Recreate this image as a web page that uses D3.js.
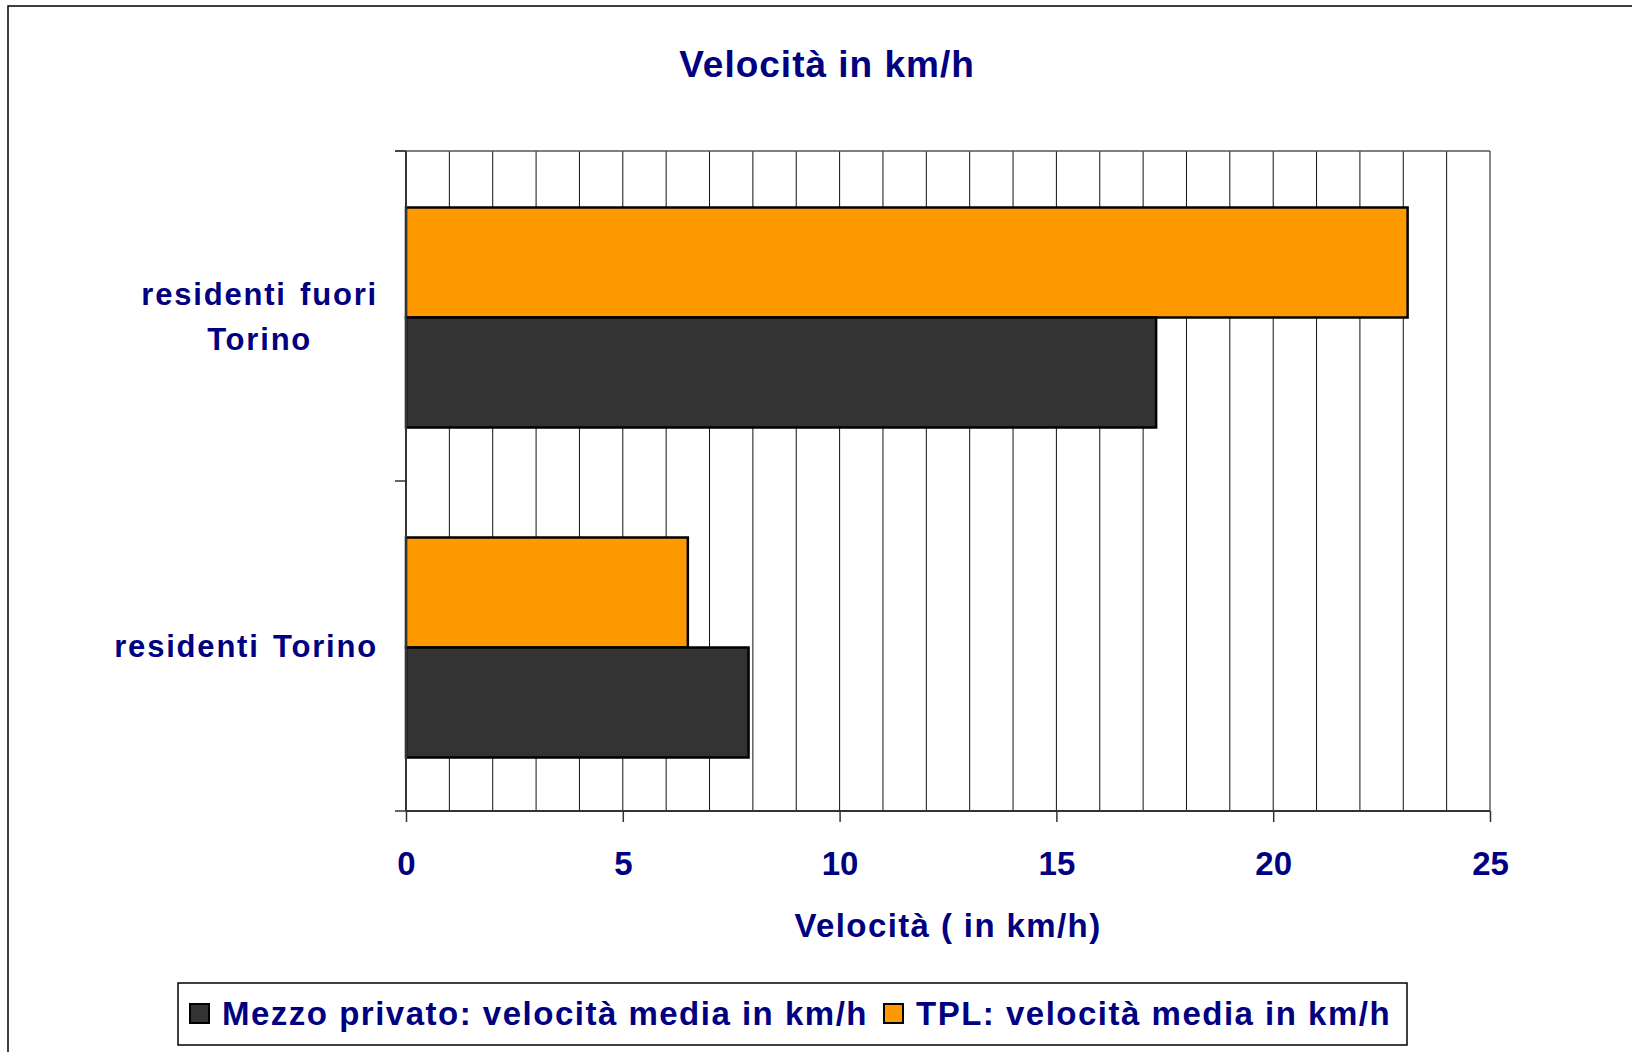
<!DOCTYPE html>
<html>
<head>
<meta charset="utf-8">
<script src="https://cdn.jsdelivr.net/npm/d3@7"></script>
<style>
  body { margin: 0; background: #fff; }
  svg text { font-family: "Liberation Sans", Arial, sans-serif; font-weight: bold; fill: #000080; }
</style>
</head>
<body>
<div id="chart"></div>
<script>
const width = 1632;
const height = 1052;

// data
const categories = ['residenti fuori Torino', 'residenti Torino'];
const categoryLines = [['residenti fuori', 'Torino'], ['residenti Torino']];
const seriesNames = ['Mezzo privato: velocità media in km/h', 'TPL: velocità media in km/h'];
const privato = [17.3, 7.9];
const tpl = [23.1, 6.5];
const xTicks = [0, 5, 10, 15, 20, 25];

const colors = { privato: '#333333', tpl: '#ff9900' };

const plot = { left: 406, right: 1490, top: 151, bottom: 811 };

const svg = d3.select('#chart')
  .append('svg')
  .attr('width', width)
  .attr('height', height);

// outer frame
svg.append('rect')
  .attr('x', 8).attr('y', 6)
  .attr('width', width).attr('height', height)
  .attr('fill', 'none')
  .attr('stroke', '#000')
  .attr('stroke-width', 1.5);

// title
svg.append('text')
  .attr('x', 827)
  .attr('y', 77)
  .attr('text-anchor', 'middle')
  .style('font-size', '37px')
  .style('letter-spacing', '1px')
  .text('Velocità in km/h');

const x = d3.scaleLinear().domain([0, 25]).range([plot.left, plot.right]);

const y0 = d3.scaleBand()
  .domain(categories)
  .range([plot.top, plot.bottom]);

// TPL drawn above Mezzo privato inside each group
const y1 = d3.scaleBand()
  .domain(['tpl', 'privato'])
  .range([1.5, y0.bandwidth() + 1.5])
  .paddingOuter(0.5);

// vertical gridlines every 1 km/h
svg.append('g')
  .selectAll('line')
  .data(d3.range(1, 26))
  .enter()
  .append('line')
  .attr('x1', d => x(d)).attr('x2', d => x(d))
  .attr('y1', plot.top).attr('y2', plot.bottom)
  .attr('stroke', '#111')
  .attr('stroke-width', 1);

// top border
svg.append('line')
  .attr('x1', plot.left - 11).attr('x2', plot.right)
  .attr('y1', plot.top).attr('y2', plot.top)
  .attr('stroke', '#555')
  .attr('stroke-width', 1.5);

// bars
const rows = categories.map((c, i) => ({ cat: c, privato: privato[i], tpl: tpl[i] }));

const groups = svg.append('g')
  .selectAll('g')
  .data(rows)
  .enter()
  .append('g')
  .attr('transform', d => 'translate(0,' + y0(d.cat) + ')');

groups.selectAll('rect')
  .data(d => ['tpl', 'privato'].map(k => ({ key: k, value: d[k] })))
  .enter()
  .append('rect')
  .attr('x', x(0))
  .attr('y', d => y1(d.key))
  .attr('width', d => x(d.value) - x(0))
  .attr('height', y1.bandwidth())
  .attr('fill', d => colors[d.key])
  .attr('stroke', '#000')
  .attr('stroke-width', 2.5);

// left axis line and category boundary ticks
svg.append('line')
  .attr('x1', plot.left).attr('x2', plot.left)
  .attr('y1', plot.top).attr('y2', plot.bottom)
  .attr('stroke', '#333')
  .attr('stroke-width', 2);

const boundaries = categories.map(c => y0(c)).concat([plot.bottom]);
svg.append('g')
  .selectAll('line')
  .data(boundaries)
  .enter()
  .append('line')
  .attr('x1', plot.left - 11).attr('x2', plot.left)
  .attr('y1', d => d).attr('y2', d => d)
  .attr('stroke', '#333')
  .attr('stroke-width', 1.5);

// category labels
const labelRight = 378;
categories.forEach((c, i) => {
  const lines = categoryLines[i];
  const cy = y0(c) + y0.bandwidth() / 2;
  const lineH = 45;
  const g = svg.append('g');
  const texts = g.selectAll('text')
    .data(lines)
    .enter()
    .append('text')
    .attr('y', (d, j) => cy + 11 + (j - (lines.length - 1) / 2) * lineH)
    .style('font-size', '31px')
    .style('letter-spacing', '1.8px')
    .style('word-spacing', '3px')
    .attr('text-anchor', 'middle')
    .text(d => d);
  const maxW = d3.max(texts.nodes(), n => n.getComputedTextLength());
  texts.attr('x', labelRight - maxW / 2);
});

// bottom axis
const xAxis = d3.axisBottom(x)
  .tickValues(xTicks)
  .tickSize(11)
  .tickFormat(d3.format('d'));

const gx = svg.append('g')
  .attr('transform', 'translate(0,' + plot.bottom + ')')
  .call(xAxis);

gx.select('.domain')
  .attr('d', 'M' + plot.left + ',0H' + plot.right)
  .attr('stroke', '#333')
  .attr('stroke-width', 2);
gx.selectAll('.tick line').attr('stroke', '#333').attr('stroke-width', 1.5);
gx.selectAll('.tick text')
  .attr('y', 64)
  .attr('dy', null)
  .attr('fill', null)
  .style('font-size', '33px')
  .style('font-family', null);
gx.attr('font-family', null).attr('font-size', null);

// axis title
svg.append('text')
  .attr('x', (plot.left + plot.right) / 2)
  .attr('y', 937)
  .attr('text-anchor', 'middle')
  .style('font-size', '33px')
  .style('letter-spacing', '1.4px')
  .text('Velocità ( in km/h)');

// legend
const legend = svg.append('g');
legend.append('rect')
  .attr('x', 178).attr('y', 983)
  .attr('width', 1229).attr('height', 62)
  .attr('fill', '#fff')
  .attr('stroke', '#000')
  .attr('stroke-width', 1.5);

const legendItems = [
  { name: seriesNames[0], color: colors.privato },
  { name: seriesNames[1], color: colors.tpl }
];
let lx = 190;
legendItems.forEach(item => {
  legend.append('rect')
    .attr('x', lx).attr('y', 1004)
    .attr('width', 19).attr('height', 19)
    .attr('fill', item.color)
    .attr('stroke', '#000')
    .attr('stroke-width', 2);
  const t = legend.append('text')
    .attr('x', lx + 32)
    .attr('y', 1025)
    .style('font-size', '33px')
    .style('letter-spacing', '1.5px')
    .text(item.name);
  lx = lx + 32 + t.node().getComputedTextLength() + 16;
});
</script>
</body>
</html>
